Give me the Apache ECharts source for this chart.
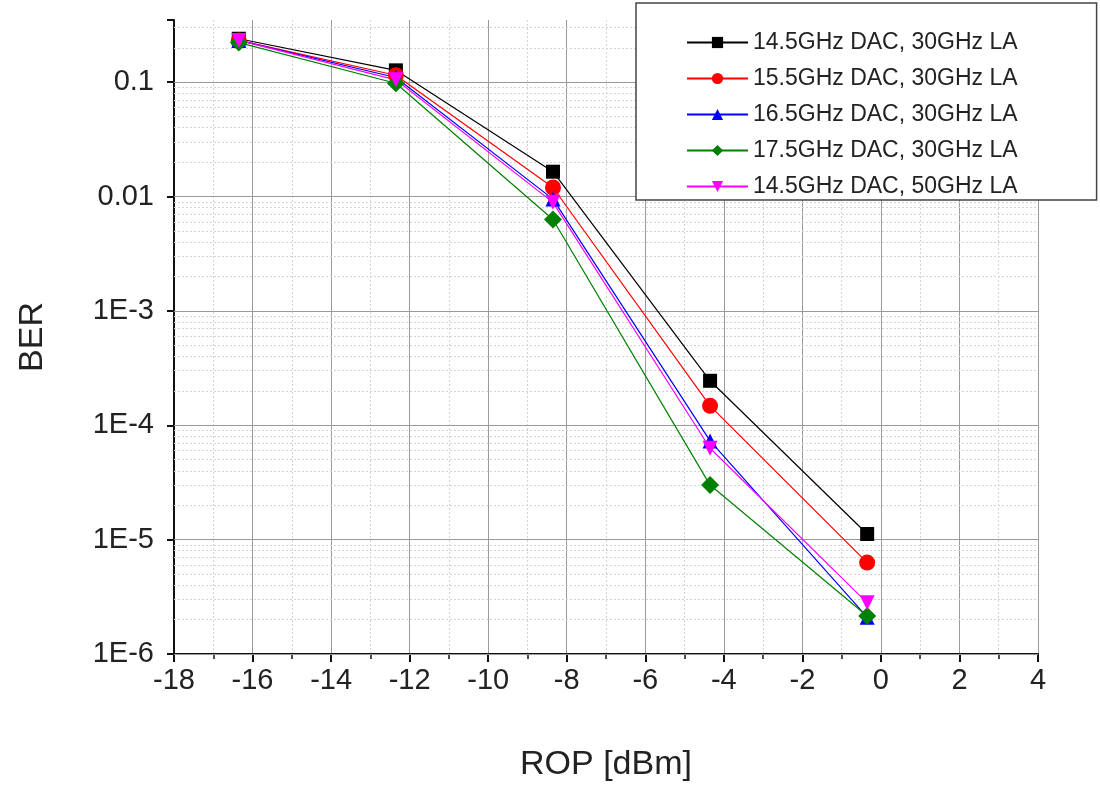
<!DOCTYPE html>
<html>
<head>
<meta charset="utf-8">
<script src="https://cdn.jsdelivr.net/npm/echarts@6/dist/echarts.min.js"></script>
<style>
  html, body { margin: 0; padding: 0; background: #fff; }
  #chart { width: 1100px; height: 787px; }
</style>
</head>
<body>
<div id="chart"></div>
<script>
// ROP [dBm] at which BER was measured
const rop = [-16.35, -12.35, -8.35, -4.35, -0.35];

// BER per configuration
const ber145_30 = [0.24, 0.127, 0.0165, 2.45e-4, 1.12e-5];
const ber155_30 = [0.232, 0.115, 0.012, 1.48e-4, 6.3e-6];
const ber165_30 = [0.232, 0.11, 0.0095, 7.3e-5, 2.1e-6];
const ber175_30 = [0.222, 0.098, 0.0063, 3.0e-5, 2.15e-6];
const ber145_50 = [0.232, 0.105, 0.0089, 6.3e-5, 2.8e-6];

const seriesNames = [
  '14.5GHz DAC, 30GHz LA',
  '15.5GHz DAC, 30GHz LA',
  '16.5GHz DAC, 30GHz LA',
  '17.5GHz DAC, 30GHz LA',
  '14.5GHz DAC, 50GHz LA'
];

// y axis decades (major grid) and log minors
const decades = [1e-6, 1e-5, 1e-4, 1e-3, 1e-2, 1e-1];

const chart = echarts.init(document.getElementById('chart'));

function pairs(ys) {
  return rop.map((x, i) => [x, ys[i]]);
}

// grid lines for the log axis
const majorLines = decades.map(d => ({ yAxis: d }));
const minorLines = [];
decades.forEach(d => {
  for (let k = 2; k <= 9; k++) {
    const v = d * k;
    if (v <= 0.35) minorLines.push({ yAxis: v });
  }
});

function mkSeries(name, data, color, symbol, size, rotate) {
  return {
    name: name,
    type: 'line',
    data: pairs(data),
    symbol: symbol,
    symbolSize: size,
    symbolRotate: rotate || 0,
    showAllSymbol: true,
    z: 3,
    lineStyle: { color: color, width: 1.2 },
    itemStyle: { color: color },
    emphasis: { disabled: true }
  };
}

function gridSeries(name, lines, style) {
  return {
    name: name,
    type: 'line',
    data: [],
    z: 1,
    silent: true,
    markLine: {
      silent: true,
      z: 1,
      symbol: 'none',
      precision: 12,
      label: { show: false },
      animation: false,
      data: lines,
      lineStyle: style
    }
  };
}

const option = {
  animation: false,
  textStyle: { fontFamily: 'Liberation Sans, Arial, sans-serif' },
  grid: {
    left: 174,
    right: 62,
    top: 20,
    bottom: 132,
    containLabel: false
  },
  legend: {
    data: seriesNames,
    orient: 'vertical',
    left: 636,
    top: 3,
    z: 10,
    backgroundColor: '#fff',
    borderColor: '#444',
    borderWidth: 1.5,
    padding: [28, 79, 2, 50],
    itemWidth: 61,
    itemHeight: 14,
    itemGap: 13,
    textStyle: { fontSize: 23, color: '#222', fontFamily: 'Liberation Sans, Arial, sans-serif' }
  },
  xAxis: {
    type: 'value',
    min: -18,
    max: 4,
    interval: 2,
    name: 'ROP [dBm]',
    nameLocation: 'middle',
    nameGap: 94,
    nameTextStyle: { fontSize: 34, color: '#222' },
    axisLine: { onZero: false, lineStyle: { color: '#111', width: 2 } },
    axisTick: { length: 8, lineStyle: { color: '#111', width: 2 } },
    minorTick: { show: true, splitNumber: 2, length: 5, lineStyle: { color: '#111', width: 1.5 } },
    axisLabel: { fontSize: 29, color: '#222', margin: 12 },
    splitLine: { show: true, lineStyle: { color: '#9a9a9a', width: 1 } },
    minorSplitLine: { show: true, lineStyle: { color: '#d4d4d4', width: 1, type: [2, 2] } }
  },
  yAxis: {
    type: 'log',
    logBase: 10,
    min: 1e-6,
    max: 0.35,
    name: 'BER',
    nameLocation: 'middle',
    nameGap: 124,
    nameRotate: 90,
    nameTextStyle: { fontSize: 34, color: '#222' },
    axisLine: { onZero: false, lineStyle: { color: '#111', width: 2 } },
    axisTick: { length: 7, lineStyle: { color: '#111', width: 2 } },
    axisLabel: {
      fontSize: 29,
      color: '#222',
      margin: 20,
      formatter: function (v) {
        const e = Math.round(Math.log10(v));
        if (Math.abs(Math.log10(v) - e) > 1e-6) return '';
        if (e === -1) return '0.1';
        if (e === -2) return '0.01';
        return '1E' + e;
      }
    },
    splitLine: { show: false }
  },
  series: [
    gridSeries('minorGrid', minorLines, { color: '#d4d4d4', width: 1, type: [2, 2] }),
    gridSeries('majorGrid', majorLines, { color: '#9a9a9a', width: 1, type: 'solid' }),
    mkSeries(seriesNames[0], ber145_30, '#000000', 'rect', 14),
    mkSeries(seriesNames[1], ber155_30, '#ff0000', 'circle', 16),
    mkSeries(seriesNames[2], ber165_30, '#0000ff', 'triangle', 15),
    mkSeries(seriesNames[3], ber175_30, '#008000', 'diamond', 18),
    mkSeries(seriesNames[4], ber145_50, '#ff00ff', 'triangle', 15, 180)
  ]
};

chart.setOption(option);
</script>
</body>
</html>
